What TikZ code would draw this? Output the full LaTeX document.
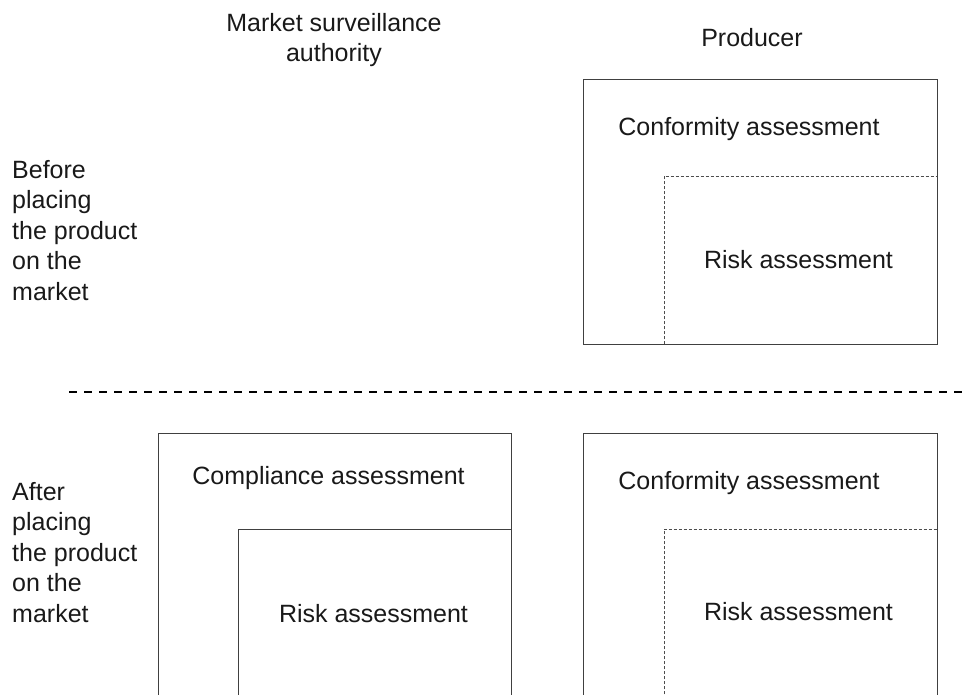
\documentclass[tikz,border=0pt]{standalone}
\usepackage{fontspec}
\setmainfont{Liberation Sans}
\begin{document}
\begin{tikzpicture}[x=1pt,y=-1pt,
  every node/.style={font=\fontsize{25}{30.5}\selectfont, inner sep=0pt, text=black!90},
  box/.style={draw=black!75, line width=1pt, anchor=north west},
  area/.style={anchor=north west},
  riskdash/.style={draw=black!70, line width=0.9pt, dash pattern=on 3pt off 2pt},
  risksolid/.style={draw=black!75, line width=1pt},
  sepline/.style={line width=2pt, dash pattern=on 8pt off 7pt},
  lbl/.style={anchor=base}]
\useasboundingbox (0,0) rectangle (969,695);
\clip (0,0) rectangle (969,695);

% column headings
\node[lbl, align=center, font=\fontsize{25}{30}\selectfont] (msa) at (334,62) {Market surveillance\\authority};
\node[lbl] (prod) at (752,47) {Producer};

% row headings
\node[anchor=base west, align=left] (before) at (12,300) {Before\\placing\\the product\\on the\\market};
\node[anchor=base west, align=left] (after) at (12,622) {After\\placing\\the product\\on the\\market};

% separator
\coordinate (sepL) at (69,392);
\coordinate (sepR) at (969,392);
\draw[sepline] (sepL) -- (sepR);

% producer, before
\node[box, minimum width=354pt, minimum height=265pt] (pbox1) at (583,79) {};
\node[area, minimum width=273pt, minimum height=168pt] (prisk1) at (664,176) {};
\draw[riskdash] (prisk1.south west) |- (prisk1.north east);
\node[lbl] (conf1) at (749,136) {Conformity assessment};
\node[lbl] (risk1) at (798.5,268) {Risk assessment};

% market surveillance authority, after
\node[box, minimum width=353pt, minimum height=300pt] (mbox) at (158,433) {};
\node[area, minimum width=273pt, minimum height=200pt] (mrisk) at (238,529) {};
\draw[risksolid] (mrisk.south west) |- (mrisk.north east);
\node[lbl] (comp) at (328.5,484) {Compliance assessment};
\node[lbl] (risk2) at (373.5,622) {Risk assessment};

% producer, after
\node[box, minimum width=354pt, minimum height=300pt] (pbox2) at (583,433) {};
\node[area, minimum width=273pt, minimum height=200pt] (prisk2) at (664,529) {};
\draw[riskdash] (prisk2.south west) |- (prisk2.north east);
\node[lbl] (conf2) at (749,489) {Conformity assessment};
\node[lbl] (risk3) at (798.5,620) {Risk assessment};
\end{tikzpicture}
\end{document}
